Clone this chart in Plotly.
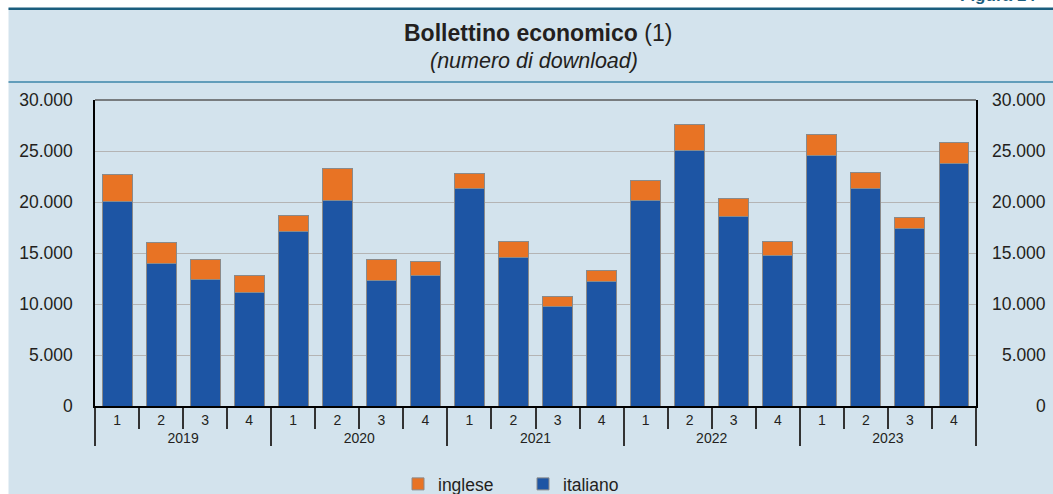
import plotly.graph_objects as go

years = ["2019"] * 4 + ["2020"] * 4 + ["2021"] * 4 + ["2022"] * 4 + ["2023"] * 4
quarters = ["1", "2", "3", "4"] * 5

italiano = [20050, 14000, 12450, 11150, 17150, 20100, 12350, 12750, 21370, 14600, 9800, 12250,
            20100, 25070, 18600, 14770, 24600, 21370, 17420, 23820]
totale = [22650, 16050, 14390, 12800, 18720, 23240, 14400, 14120, 22750, 16080, 10780, 13330,
          22060, 27550, 20330, 16140, 26630, 22900, 18500, 25820]
inglese = [t - i for t, i in zip(totale, italiano)]

y_ticks = [0, 5000, 10000, 15000, 20000, 25000, 30000]
y_ticktext = ["0", "5.000", "10.000", "15.000", "20.000", "25.000", "30.000"]

BLUE = "#1d55a4"
ORANGE = "#e87324"
PANEL = "#d3e3ed"
TXT = "#231f20"
FONT = "Liberation Sans, Arial, sans-serif"

W, H = 1053, 494
L, R, T, B = 95, 77, 100, 88
pw, ph = W - L - R, H - T - B


def px(x):
    return (x - L) / pw


def py(y):
    return (H - B - y) / ph


fig = go.Figure()
fig.add_trace(go.Bar(
    x=[years, quarters], y=italiano, name="italiano",
    marker=dict(color=BLUE, line=dict(color="#8a8a8a", width=1)),
))
fig.add_trace(go.Bar(
    x=[years, quarters], y=inglese, name="inglese",
    marker=dict(color=ORANGE, line=dict(color="#8a8a8a", width=1)),
))

shapes = [
    dict(type="rect", xref="paper", yref="paper", x0=px(8.5), x1=px(1070), y0=py(510), y1=py(8),
         fillcolor=PANEL, line=dict(width=0), layer="below"),
    dict(type="line", xref="paper", yref="paper", x0=px(8.5), x1=px(1070), y0=py(8.7), y1=py(8.7),
         line=dict(color="#1b5e7e", width=2.5), layer="below"),
    dict(type="line", xref="paper", yref="paper", x0=px(8.5), x1=px(1070), y0=py(82), y1=py(82),
         line=dict(color="#3c86a8", width=1.5), layer="below"),
    dict(type="line", xref="paper", yref="paper", x0=0, x1=1, y0=1, y1=1,
         line=dict(color="#5a5a5a", width=1.5)),
]

annotations = [
    dict(xref="paper", yref="paper", x=px(538), y=py(33), xanchor="center", yanchor="middle",
         text="<b>Bollettino economico</b> (1)", showarrow=False,
         font=dict(family=FONT, size=23, color=TXT)),
    dict(xref="paper", yref="paper", x=px(534), y=py(61), xanchor="center", yanchor="middle",
         text="<i>(numero di download)</i>", showarrow=False,
         font=dict(family=FONT, size=21.5, color=TXT)),
    dict(xref="paper", yref="paper", x=px(958), y=py(7), xanchor="left", yanchor="bottom",
         text="<b>Figura 14</b>", showarrow=False,
         font=dict(family=FONT, size=17, color="#1b5e7e")),
]
for v, t in zip(y_ticks, y_ticktext):
    annotations.append(dict(xref="paper", yref="y", x=1, y=v, xanchor="right", yanchor="middle",
                            xshift=72, text=t, showarrow=False,
                            font=dict(family=FONT, size=17.5, color=TXT)))

fig.update_layout(
    width=W, height=H,
    margin=dict(l=L, r=R, t=T, b=B, pad=0, autoexpand=False),
    paper_bgcolor="white", plot_bgcolor="white",
    barmode="stack", bargap=0.32,
    font=dict(family=FONT, color=TXT),
    showlegend=True,
    legend=dict(orientation="h", xref="container", yref="container",
                x=523 / W, xanchor="center", y=1 - 484 / H, yanchor="middle",
                traceorder="reversed", font=dict(family=FONT, size=17.5, color=TXT),
                bgcolor="rgba(0,0,0,0)", itemwidth=30, entrywidth=80, tracegroupgap=0),
    shapes=shapes,
    annotations=annotations,
)
fig.update_xaxes(
    type="multicategory", showline=True, linecolor="black", linewidth=1.5, automargin=False,
    ticks="outside", tickson="boundaries", ticklen=21, tickcolor="#333333", tickwidth=1.5,
    showdividers=True, dividercolor="#333333", dividerwidth=1.5,
    tickfont=dict(family=FONT, size=14, color=TXT), showgrid=False,
)
fig.update_yaxes(
    range=[0, 30000], tickvals=y_ticks, ticktext=y_ticktext, automargin=False,
    showline=True, linecolor="black", linewidth=1.5, mirror=True,
    showgrid=True, gridcolor="#b4b4b4", gridwidth=1, zeroline=False,
    ticks="", ticklabelstandoff=17,
    tickfont=dict(family=FONT, size=17.5, color=TXT),
)

fig.write_html("out.html", config={"displayModeBar": False},
               post_script="document.body.style.margin='0';")
